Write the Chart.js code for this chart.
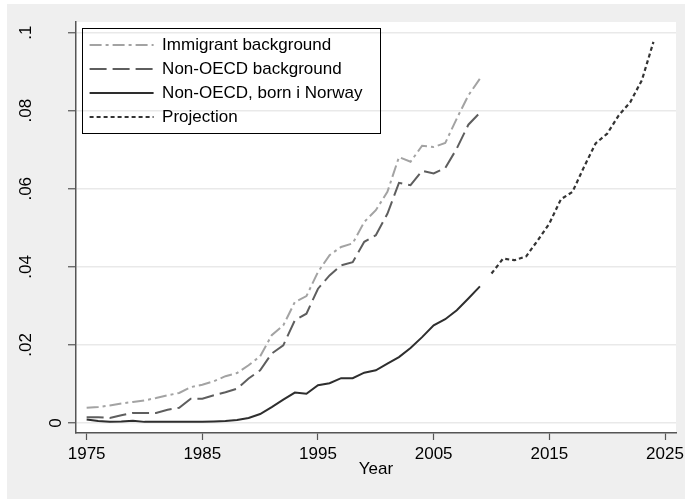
<!DOCTYPE html>
<html>
<head>
<meta charset="utf-8">
<script src="https://cdn.jsdelivr.net/npm/chart.js@4.4.0/dist/chart.umd.min.js"></script>
<style>
  html, body { margin: 0; padding: 0; background: #fff; }
  #wrap { width: 685px; height: 499px; }
</style>
</head>
<body>
<div id="wrap"><canvas id="myChart" width="685" height="499"></canvas></div>
<script>
const years = [
  1975, 1976, 1977, 1978, 1979, 1980, 1981, 1982, 1983, 1984,
  1985, 1986, 1987, 1988, 1989, 1990, 1991, 1992, 1993, 1994,
  1995, 1996, 1997, 1998, 1999, 2000, 2001, 2002, 2003, 2004,
  2005, 2006, 2007, 2008, 2009
];
const immigrant = [
  0.0039, 0.0041, 0.0045, 0.0050, 0.0054, 0.0058, 0.0064, 0.0071, 0.0077, 0.0092,
  0.0098, 0.0107, 0.0120, 0.0128, 0.0148, 0.0171, 0.0225, 0.0250, 0.0310, 0.0325,
  0.0387, 0.0430, 0.0451, 0.0460, 0.0515, 0.0545, 0.0592, 0.0681, 0.0669, 0.0710,
  0.0707, 0.0717, 0.0780, 0.0839, 0.0882
];
const nonOecd = [
  0.0015, 0.0015, 0.0013, 0.0020, 0.0026, 0.0026, 0.0026, 0.0034, 0.0039, 0.0062,
  0.0062, 0.0071, 0.0079, 0.0088, 0.0114, 0.0135, 0.0178, 0.0199, 0.0263, 0.0280,
  0.0344, 0.0378, 0.0404, 0.0412, 0.0464, 0.0481, 0.0536, 0.0615, 0.0609, 0.0646,
  0.0639, 0.0653, 0.0703, 0.0764, 0.0795
];
const bornNorway = [
  0.0009, 0.0005, 0.0003, 0.0004, 0.0006, 0.0003, 0.0003, 0.0003, 0.0003, 0.0003,
  0.0003, 0.0004, 0.0005, 0.0008, 0.0013, 0.0023, 0.0041, 0.0060, 0.0078, 0.0075,
  0.0097, 0.0102, 0.0115, 0.0115, 0.0129, 0.0135, 0.0152, 0.0169, 0.0192, 0.0220,
  0.0250, 0.0266, 0.0289, 0.0319, 0.0350
];
const projYears = [2010, 2011, 2012, 2013, 2014, 2015, 2016, 2017, 2018, 2019, 2020, 2021, 2022, 2023, 2024];
const projection = [
  0.0383, 0.0421, 0.0417, 0.0427, 0.0468, 0.0511, 0.0573, 0.0592, 0.0656, 0.0716,
  0.0741, 0.0788, 0.0822, 0.0878, 0.0976
];
const seriesNames = ['Immigrant background', 'Non-OECD background', 'Non-OECD, born i Norway', 'Projection'];
const xTicks = [1975, 1985, 1995, 2005, 2015, 2025];
const yTicks = [0, 0.02, 0.04, 0.06, 0.08, 0.1];
const yTickLabels = ['0', '.02', '.04', '.06', '.08', '.1'];

const pts = (xs, ys) => xs.map((x, i) => ({x: x, y: ys[i]}));

Chart.defaults.font.family = "'Liberation Sans', Arial, sans-serif";
Chart.defaults.font.size = 17;
Chart.defaults.color = '#000';

// stata-ish backdrop: grey page, white plot region, framed legend
const frame = {
  id: 'frame',
  beforeDraw(chart) {
    const {ctx, chartArea: a, width, height} = chart;
    ctx.save();
    ctx.fillStyle = '#ffffff';
    ctx.fillRect(0, 0, width, height);
    ctx.fillStyle = '#efefef';
    ctx.fillRect(7, 4, width - 7, height - 4);
    ctx.fillStyle = '#ffffff';
    ctx.fillRect(a.left, a.top, a.right - a.left, a.bottom - a.top);
    ctx.restore();
    const lg = chart.legend;
    lg.left = a.left + 6.6;
    lg.top = a.top + 7.5;
  },
  afterDraw(chart) {
    const {ctx} = chart;
    const lg = chart.legend;
    ctx.save();
    ctx.strokeStyle = '#000';
    ctx.lineWidth = 1;
    ctx.strokeRect(Math.round(lg.left) - 0.5, Math.round(lg.top - 2) + 0.5, Math.round(lg.width + 8), 105);
    ctx.restore();
  }
};

const ctx = document.getElementById('myChart').getContext('2d');

new Chart(ctx, {
  type: 'line',
  data: {
    datasets: [
      {
        label: seriesNames[0],
        data: pts(years, immigrant),
        borderColor: '#a3a3a3',
        borderWidth: 2,
        borderDash: [12, 4, 3, 4]
      },
      {
        label: seriesNames[1],
        data: pts(years, nonOecd),
        borderColor: '#5e5e5e',
        borderWidth: 2,
        borderDash: [17, 6]
      },
      {
        label: seriesNames[2],
        data: pts(years, bornNorway),
        borderColor: '#2e2e2e',
        borderWidth: 2
      },
      {
        label: seriesNames[3],
        data: pts(projYears, projection),
        borderColor: '#333333',
        borderWidth: 2.2,
        borderDash: [4, 3]
      }
    ]
  },
  options: {
    responsive: false,
    animation: false,
    layout: { padding: { top: 22, right: 9, left: 0, bottom: 0 } },
    elements: {
      point: { radius: 0 },
      line: { tension: 0, fill: false, borderCapStyle: 'butt' }
    },
    plugins: {
      tooltip: { enabled: false },
      legend: {
        position: 'chartArea',
        align: 'start',
        labels: {
          usePointStyle: true,
          pointStyleWidth: 64,
          padding: 7,
          color: '#000',
          font: { size: 17 },
          generateLabels: (chart) => chart.data.datasets.map((ds, i) => ({
            text: ds.label,
            datasetIndex: i,
            strokeStyle: ds.borderColor,
            fillStyle: ds.borderColor,
            lineWidth: ds.borderWidth,
            lineDash: ds.borderDash || [],
            pointStyle: 'line',
            hidden: false,
            fontColor: '#000'
          }))
        }
      }
    },
    scales: {
      x: {
        type: 'linear',
        min: 1974.08,
        max: 2025.95,
        afterBuildTicks: (s) => { s.ticks = xTicks.map(v => ({value: v})); },
        afterFit: (s) => { s.height = 66; s.paddingLeft = 0; s.paddingRight = 0; },
        grid: { drawOnChartArea: false, tickLength: 7, tickColor: '#555', tickWidth: 1.2 },
        border: { color: '#555', width: 1.5 },
        ticks: { maxRotation: 0, autoSkip: false, padding: 4, color: '#000', callback: (v) => String(v) },
        title: { display: true, text: 'Year', color: '#000', font: { size: 17 }, padding: { top: 0, bottom: 19 } }
      },
      y: {
        type: 'linear',
        min: -0.00255,
        max: 0.1027,
        afterBuildTicks: (s) => { s.ticks = yTicks.map(v => ({value: v})); },
        afterFit: (s) => { s.width = 76; s.paddingTop = 0; s.paddingBottom = 0; },
        grid: { color: '#e9e9e9', lineWidth: 1.5, tickLength: 8, tickColor: '#555', tickWidth: 1.2 },
        border: { color: '#555', width: 1.5 },
        ticks: {
          minRotation: 90,
          maxRotation: 90,
          crossAlign: 'center',
          padding: 30,
          autoSkip: false,
          color: '#000',
          callback: (v) => {
            const lbl = yTickLabels[yTicks.indexOf(v)];
            // stata sets the lone "0" closer to the axis
            return lbl === '0' ? ['', '', '', lbl] : lbl;
          }
        }
      }
    }
  },
  plugins: [frame]
});
</script>
</body>
</html>
